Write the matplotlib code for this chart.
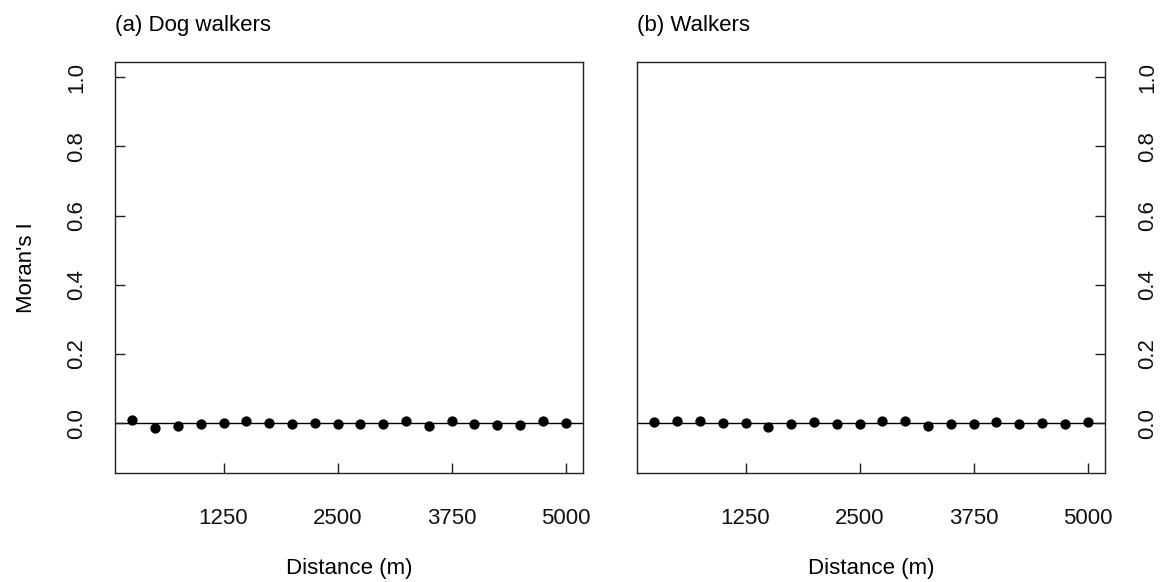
import matplotlib
matplotlib.use("Agg")
import matplotlib.pyplot as plt
import numpy as np

plt.rcParams['font.family'] = ['Liberation Sans', 'DejaVu Sans']

distance = [250, 500, 750, 1000, 1250, 1500, 1750, 2000, 2250, 2500,
            2750, 3000, 3250, 3500, 3750, 4000, 4250, 4500, 4750, 5000]
moran_dog = [0.010, -0.014, -0.008, -0.002, 0.000, 0.005, 0.000, -0.002, 0.000, -0.002,
             -0.002, -0.003, 0.005, -0.007, 0.007, -0.002, -0.006, -0.005, 0.005, 0.000]
moran_walk = [0.003, 0.005, 0.005, 0.000, 0.000, -0.010, -0.003, 0.002, -0.002, -0.003,
              0.005, 0.007, -0.007, -0.003, -0.003, 0.003, -0.003, 0.000, -0.003, 0.003]
xticks = [1250, 2500, 3750, 5000]
yticks = [0.0, 0.2, 0.4, 0.6, 0.8, 1.0]
titles = ["(a) Dog walkers", "(b) Walkers"]

W, H = 1170, 582
fig = plt.figure(figsize=(W / 100, H / 100), dpi=100)

boxes = [(115, 583), (637, 1105)]
top, bottom = 62, 473
fs = 16

for i, ((l, r), yvals, title) in enumerate(zip(boxes, [moran_dog, moran_walk], titles)):
    ax = fig.add_axes([l / W, (H - bottom) / H, (r - l) / W, (bottom - top) / H])
    ax.axhline(0, color='black', lw=1.0, zorder=1)
    ax.plot(distance, yvals, 'o', color='black', markersize=6.4, zorder=2)
    ax.set_xlim(60, 5190)
    ax.set_ylim(-0.144, 1.044)
    ax.set_xticks(xticks)
    ax.set_xticklabels([str(t) for t in xticks], fontsize=fs)
    ax.set_yticks(yticks)
    ax.set_yticklabels([f"{t:.1f}" for t in yticks], fontsize=fs, rotation=90, va='center')
    for s in ax.spines.values():
        s.set_linewidth(1.0)
        s.set_color('#222222')
    ax.tick_params(axis='x', direction='in', length=7, width=1, pad=25, colors='#222222', labelcolor='#111111')
    if i == 0:
        ax.tick_params(axis='y', direction='in', length=7, width=1, pad=20, left=True, right=False,
                       labelleft=True, labelright=False, colors='#222222', labelcolor='#111111')
        ax.set_ylabel("Moran's I", fontsize=fs, labelpad=21)
    else:
        ax.tick_params(axis='y', direction='in', length=7, width=1, pad=23, left=False, right=True,
                       labelleft=False, labelright=True, colors='#222222', labelcolor='#111111')
    ax.set_xlabel("Distance (m)", fontsize=fs, labelpad=21)
    ax.text(0.0, 1.0 + 37 / (bottom - top), title, transform=ax.transAxes, fontsize=fs,
            ha='left', va='center')

fig.savefig("out.png", dpi=100)
